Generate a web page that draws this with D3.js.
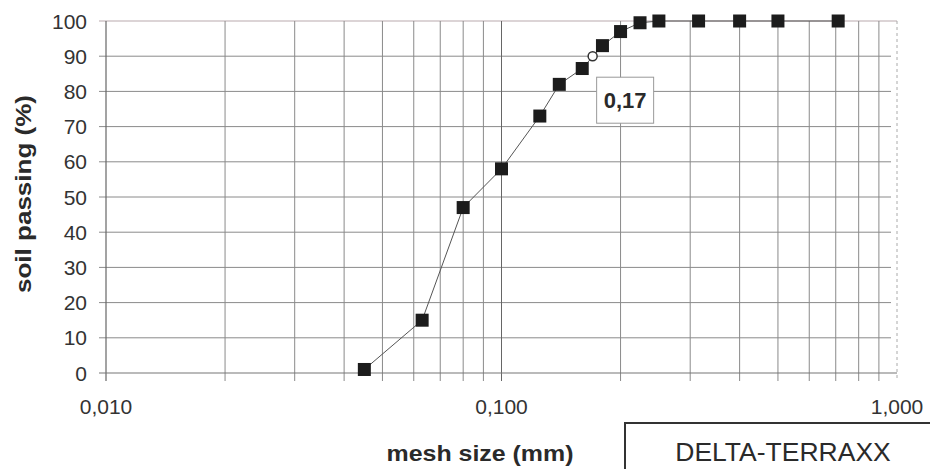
<!DOCTYPE html>
<html>
<head>
<meta charset="utf-8">
<script src="https://cdn.jsdelivr.net/npm/d3@7"></script>
<style>
  html, body { margin: 0; padding: 0; background: #fff; }
  svg { display: block; font-family: "Liberation Sans", Arial, sans-serif; }
</style>
</head>
<body>
<svg id="chart" width="930" height="469"></svg>
<script>
// ---- data ----
const meshSizes = [0.045, 0.063, 0.08, 0.1, 0.125, 0.14, 0.16, 0.18, 0.2, 0.224, 0.25, 0.315, 0.4, 0.5, 0.71];
const passing   = [1, 15, 47, 58, 73, 82, 86.5, 93, 97, 99.5, 100, 100, 100, 100, 100];
const d90Size = 0.17;
const d90Passing = 90;
const d90Label = "0,17";
const xTickValues = [0.01, 0.1, 1];
const xTickLabels = ["0,010", "0,100", "1,000"];
const yTickValues = [0, 10, 20, 30, 40, 50, 60, 70, 80, 90, 100];
const xTitle = "mesh size (mm)";
const yTitle = "soil passing (%)";
const legendText = "DELTA-TERRAXX";

// ---- layout ----
const svg = d3.select("#chart");
const x = d3.scaleLog().domain([0.01, 1]).range([106, 897]);
const y = d3.scaleLinear().domain([0, 100]).range([373, 21]);

// minor vertical grid values (2..9 per decade)
const minorX = [];
[0.01, 0.1].forEach(d => { for (let k = 2; k <= 9; k++) minorX.push(+(d * k).toFixed(4)); });

const grid = svg.append("g");
// horizontal gridlines
grid.selectAll("line.h").data(yTickValues.filter(v => v > 0 && v < 100)).join("line")
  .attr("x1", x(0.01) - 7).attr("x2", x(1) - 6)
  .attr("y1", d => y(d)).attr("y2", d => y(d))
  .attr("stroke", "#8a8a8a").attr("stroke-width", 1);
// top border
grid.append("line")
  .attr("x1", x(0.01) - 7).attr("x2", x(1))
  .attr("y1", y(100)).attr("y2", y(100))
  .attr("stroke", "#b9a9ad").attr("stroke-width", 1);
// vertical minor gridlines
grid.selectAll("line.v").data(minorX).join("line")
  .attr("x1", d => x(d)).attr("x2", d => x(d))
  .attr("y1", y(100)).attr("y2", y(0) + 8)
  .attr("stroke", "#8a8a8a").attr("stroke-width", 1);
// major at 0.1
grid.append("line")
  .attr("x1", x(0.1)).attr("x2", x(0.1))
  .attr("y1", y(100)).attr("y2", y(0) + 8)
  .attr("stroke", "#666").attr("stroke-width", 1);
// right border dashed
grid.append("line")
  .attr("x1", x(1)).attr("x2", x(1))
  .attr("y1", y(100)).attr("y2", y(0) + 6)
  .attr("stroke", "#aaa").attr("stroke-width", 1).attr("stroke-dasharray", "3,3");
// y axis line
grid.append("line")
  .attr("x1", x(0.01)).attr("x2", x(0.01))
  .attr("y1", y(100)).attr("y2", y(0) + 8)
  .attr("stroke", "#666").attr("stroke-width", 1.2);
// x axis line
grid.append("line")
  .attr("x1", x(0.01) - 7).attr("x2", x(1))
  .attr("y1", y(0)).attr("y2", y(0))
  .attr("stroke", "#777").attr("stroke-width", 1.2);

// y tick labels
svg.append("g").selectAll("text").data(yTickValues).join("text")
  .attr("x", 87).attr("y", d => y(d) + 7.5)
  .attr("text-anchor", "end").attr("font-size", 21).attr("fill", "#333")
  .text(d => d);

// x tick labels
svg.append("g").selectAll("text").data(xTickValues).join("text")
  .attr("x", d => x(d)).attr("y", 414)
  .attr("text-anchor", "middle").attr("font-size", 21).attr("fill", "#333")
  .text((d, i) => xTickLabels[i]);

// axis titles
svg.append("text")
  .attr("x", 480).attr("y", 461)
  .attr("text-anchor", "middle").attr("font-size", 22).attr("font-weight", "bold").attr("fill", "#2a2a2a")
  .attr("textLength", 187).attr("lengthAdjust", "spacingAndGlyphs")
  .text(xTitle);
svg.append("text")
  .attr("transform", "translate(31,194) rotate(-90)")
  .attr("text-anchor", "middle").attr("font-size", 22).attr("font-weight", "bold").attr("fill", "#2a2a2a")
  .attr("textLength", 198).attr("lengthAdjust", "spacingAndGlyphs")
  .text(yTitle);

// data line
const pts = meshSizes.map((m, i) => [m, passing[i]]);
svg.append("path")
  .datum(pts)
  .attr("d", d3.line().x(d => x(d[0])).y(d => y(d[1])))
  .attr("fill", "none").attr("stroke", "#555").attr("stroke-width", 1);

// markers
const ms = 13;
svg.append("g").selectAll("rect").data(pts).join("rect")
  .attr("x", d => x(d[0]) - ms / 2).attr("y", d => y(d[1]) - ms / 2)
  .attr("width", ms).attr("height", ms)
  .attr("fill", "#1c1c1c");

// D90 marker
svg.append("circle")
  .attr("cx", x(d90Size)).attr("cy", y(d90Passing)).attr("r", 4.5)
  .attr("fill", "#fff").attr("stroke", "#333").attr("stroke-width", 1.5);

// D90 annotation box
const bx = x(d90Size) + 4, by = y(d90Passing) + 21;
svg.append("rect")
  .attr("x", bx).attr("y", by).attr("width", 57).attr("height", 46)
  .attr("fill", "#fff").attr("stroke", "#999").attr("stroke-width", 1);
svg.append("text")
  .attr("x", bx + 28.5).attr("y", by + 31)
  .attr("text-anchor", "middle").attr("font-size", 22).attr("font-weight", "bold").attr("fill", "#2a2a2a")
  .text(d90Label);

// legend box
svg.append("rect")
  .attr("x", 625).attr("y", 423).attr("width", 320).attr("height", 60)
  .attr("fill", "#fff").attr("stroke", "#333").attr("stroke-width", 2);
svg.append("text")
  .attr("x", 783).attr("y", 461)
  .attr("text-anchor", "middle").attr("font-size", 26.5).attr("fill", "#2a2a2a")
  .text(legendText);
</script>
</body>
</html>
